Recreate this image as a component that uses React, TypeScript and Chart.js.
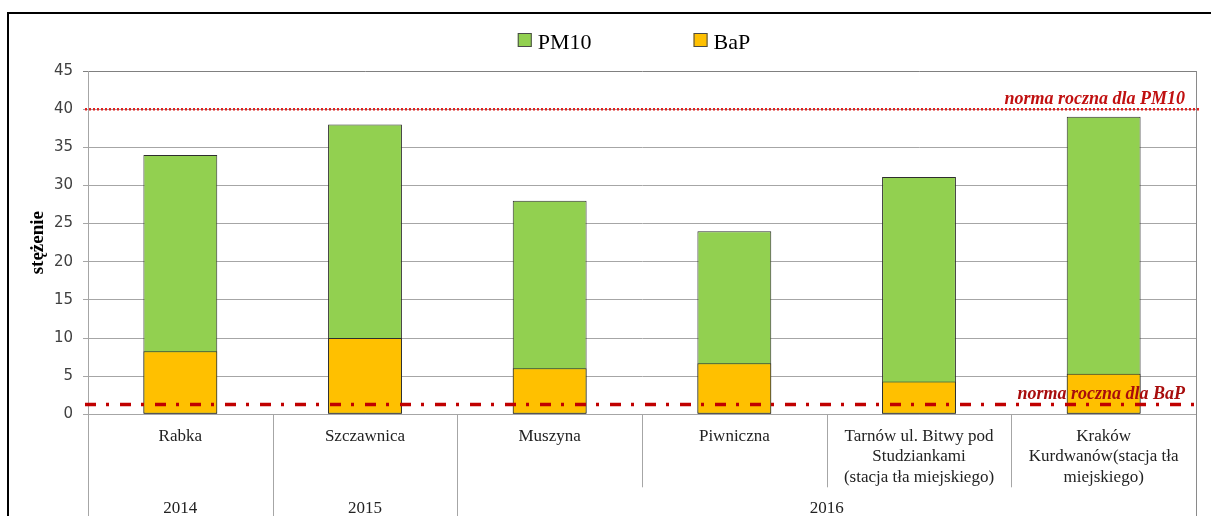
import React, { useEffect, useRef } from 'react';
import { Chart, registerables } from 'chart.js';

Chart.register(...registerables);

// ---- data ----
const categories: string[][] = [
  ['Rabka'],
  ['Szczawnica'],
  ['Muszyna'],
  ['Piwniczna'],
  ['Tarnów ul. Bitwy pod', 'Studziankami', '(stacja tła miejskiego)'],
  ['Kraków', 'Kurdwanów(stacja tła', 'miejskiego)'],
];
const years = ['2014', '2015', '2016', '2016', '2016', '2016'];
const pm10Values = [34, 38, 28, 24, 31.1, 39];
const bapValues = [8.25, 10, 6.05, 6.7, 4.3, 5.3];
const normValues = [40, 1.3];
const normLabels = ['norma roczna dla PM10', 'norma roczna dla BaP'];
const yTitle = 'stężenie';
const yMin = 0;
const yMax = 45;
const yStep = 5;

const SERIF = '"Liberation Serif", "Times New Roman", serif';

const legendPlugin = {
  id: 'customLegend',
  afterDraw(chart: any) {
    const { ctx, chartArea } = chart;
    const ds = chart.data.datasets;
    ctx.save();
    ctx.font = `22px ${SERIF}`;
    const box = 14;
    const gapText = 6;
    const gapItem = 102;
    const widths = ds.map((d: any) => box + gapText + ctx.measureText(d.label).width);
    const total = widths.reduce((a: number, b: number) => a + b, 0) + gapItem * (ds.length - 1);
    let x = (chartArea.left + chartArea.right) / 2 - total / 2 - 8;
    const baseline = 35;
    ds.forEach((d: any, i: number) => {
      ctx.fillStyle = d.backgroundColor;
      ctx.fillRect(x, baseline - 16, box, box);
      ctx.strokeStyle = '#4a4a4a';
      ctx.lineWidth = 1;
      ctx.strokeRect(x + 0.5, baseline - 15.5, box - 1, box - 1);
      ctx.fillStyle = '#000';
      ctx.textBaseline = 'alphabetic';
      ctx.textAlign = 'left';
      ctx.fillText(d.label, x + box + gapText, baseline);
      x += widths[i] + gapItem;
    });
    ctx.restore();
  },
};

const normPlugin = {
  id: 'norms',
  afterDatasetsDraw(chart: any) {
    const { ctx, chartArea, scales } = chart;
    const styles = [
      { color: '#e0201f', width: 2.5, dash: [2, 2], text: '#c01010' },
      { color: '#c00000', width: 3.5, dash: [11, 10, 3, 11], text: '#a80c0c' },
    ];
    normValues.forEach((v, i) => {
      const y = scales.y.getPixelForValue(v);
      const s = styles[i];
      ctx.save();
      ctx.strokeStyle = s.color;
      ctx.lineWidth = s.width;
      ctx.setLineDash(s.dash);
      ctx.beginPath();
      ctx.moveTo(chartArea.left - 3, y);
      ctx.lineTo(chartArea.right + 5, y);
      ctx.stroke();
      ctx.setLineDash([]);
      ctx.font = `italic bold 18px ${SERIF}`;
      ctx.fillStyle = s.text;
      ctx.textAlign = 'right';
      ctx.textBaseline = 'alphabetic';
      ctx.fillText(normLabels[i], chartArea.right - 11, y - 5);
      ctx.restore();
    });
  },
};

const groupsPlugin = {
  id: 'groups',
  afterDraw(chart: any) {
    const { ctx, chartArea, scales, height } = chart;
    const xs = scales.x;
    const n = categories.length;
    const w = (xs.right - xs.left) / n;
    const boundary = (i: number) =>
      i < n ? xs.getPixelForValue(i) - w / 2 : xs.getPixelForValue(n - 1) + w / 2;
    ctx.save();
    ctx.lineWidth = 1;
    for (let i = 0; i <= n; i++) {
      const x = Math.round(boundary(i)) + 0.5;
      const isGroup = i === 0 || i === n || years[i] !== years[i - 1];
      const yStart = i === n ? chartArea.top : chartArea.bottom;
      const yEnd = isGroup ? height : chartArea.bottom + 73;
      ctx.strokeStyle = i === n ? '#8a8a8a' : '#a6a6a6';
      ctx.beginPath();
      ctx.moveTo(x, yStart);
      ctx.lineTo(x, yEnd);
      ctx.stroke();
    }
    ctx.font = `17px ${SERIF}`;
    ctx.fillStyle = '#222';
    ctx.textAlign = 'center';
    ctx.textBaseline = 'middle';
    let start = 0;
    for (let i = 1; i <= n; i++) {
      if (i === n || years[i] !== years[start]) {
        const cx = (boundary(start) + boundary(i)) / 2;
        ctx.fillText(years[start], cx, chartArea.bottom + 94);
        start = i;
      }
    }
    ctx.restore();
  },
};

export default function App() {
  const ref = useRef<HTMLCanvasElement | null>(null);

  useEffect(() => {
    if (!ref.current) return;
    const chart = new Chart(ref.current, {
      type: 'bar',
      data: {
        labels: categories as any,
        datasets: [
          {
            label: 'PM10',
            data: pm10Values,
            backgroundColor: '#92D050',
            borderColor: '#2e2e2e',
            borderWidth: 1,
            borderSkipped: false,
            order: 1,
          },
          {
            label: 'BaP',
            data: bapValues,
            backgroundColor: '#FFC000',
            borderColor: '#2e2e2e',
            borderWidth: 1,
            borderSkipped: false,
            order: 0,
          },
        ],
      },
      options: {
        responsive: false,
        animation: false,
        events: [],
        layout: { padding: { top: 57, right: 15, left: 0, bottom: 0 } },
        datasets: { bar: { categoryPercentage: 1, barPercentage: 0.4 } },
        plugins: {
          legend: { display: false },
          tooltip: { enabled: false },
          title: { display: false },
        },
        scales: {
          x: {
            stacked: true,
            grid: { display: false, drawTicks: false },
            border: { display: true, color: '#a6a6a6' },
            ticks: {
              autoSkip: false,
              maxRotation: 0,
              minRotation: 0,
              padding: 12,
              color: '#222',
              font: { family: SERIF, size: 17, lineHeight: 1.2 },
            },
            afterFit: (scale: any) => {
              scale.height = 101.7;
            },
          },
          y: {
            stacked: false,
            min: yMin,
            max: yMax,
            ticks: {
              stepSize: yStep,
              padding: 10,
              color: '#404040',
              font: { family: '"DejaVu Sans", sans-serif', size: 15 },
            },
            grid: {
              color: (c: any) => (c.tick && c.tick.value === yMax ? '#808080' : '#a6a6a6'),
              tickLength: 5,
              lineWidth: 1,
            },
            border: { display: true, color: '#a6a6a6' },
            title: {
              display: true,
              text: yTitle,
              color: '#000',
              font: { family: SERIF, size: 19, weight: 'bold', lineHeight: 1.2 },
              padding: { top: 18, bottom: 0 },
            },
            afterFit: (scale: any) => {
              scale.width = 79;
            },
          },
        },
      } as any,
      plugins: [groupsPlugin, normPlugin, legendPlugin],
    });
    return () => chart.destroy();
  }, []);

  return (
    <div
      style={{
        position: 'fixed',
        left: 7,
        top: 12,
        width: 1204,
        height: 504,
        boxSizing: 'border-box',
        borderTop: '2px solid #000',
        borderLeft: '2px solid #000',
        overflow: 'hidden',
        background: '#fff',
      }}
    >
      <canvas ref={ref} width={1202} height={502} style={{ display: 'block' }} />
    </div>
  );
}
